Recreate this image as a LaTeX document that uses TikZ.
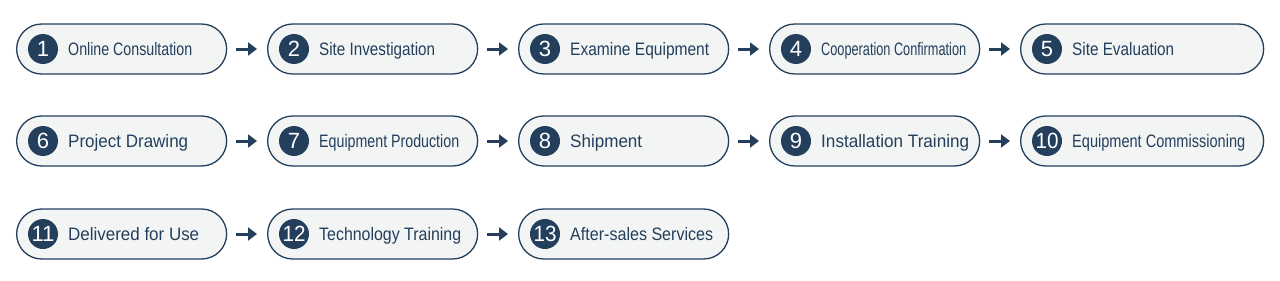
\documentclass[tikz,border=0pt]{standalone}
\usepackage{fontspec}
\setmainfont{Liberation Sans}
\usetikzlibrary{arrows.meta}
\definecolor{navy}{HTML}{233F5C}
\definecolor{pillbg}{HTML}{F3F5F5}
\newcommand{\fitw}[2]{\resizebox{#1pt}{\height}{#2}}
\tikzset{
  pill/.style={draw=navy, line width=1.3pt, fill=pillbg, rounded corners=25pt, minimum width=#1pt, minimum height=50pt, inner sep=0pt},
  numdot/.style={circle, fill=navy, minimum size=30pt, inner sep=0pt, text=white, font=\fontsize{22}{22}\selectfont},
  lbl/.style={anchor=base west, text=navy, font=\fontsize{18}{18}\selectfont, inner sep=0pt},
  flow/.style={draw=navy, line width=3pt, -{Triangle[length=9pt,width=13pt]}}
}
\begin{document}
\begin{tikzpicture}[x=1pt,y=-1pt]
\useasboundingbox (0,0) rectangle (1280,281);
\foreach \n/\lx/\cy/\w/\num/\tw/\txt in {
 p1/16/49/210/1/124/Online Consultation,
 p2/267/49/210/2/116/Site Investigation,
 p3/518/49/210/3/139/Examine Equipment,
 p4/769/49/210/4/145/Cooperation Confirmation,
 p5/1020/49/243/5/102/Site Evaluation,
 p6/16/141/210/6/120/Project Drawing,
 p7/267/141/210/7/140/Equipment Production,
 p8/518/141/210/8/72/Shipment,
 p9/769/141/210/9/148/Installation Training,
 p10/1020/141/243/10/173/Equipment Commissioning,
 p11/16/234/210/11/131/Delivered for Use,
 p12/267/234/210/12/142/Technology Training,
 p13/518/234/210/13/143/After-sales Services}{
  \node[pill=\w, anchor=west] (\n) at (\lx,\cy) {};
  \node[numdot] (\n n) at ([xshift=27pt]\n.west) {\ifnum\num>9 \resizebox{23pt}{\height}{\num}\else\num\fi};
  \node[lbl] (\n t) at ([xshift=52pt,yshift=-6pt]\n.west) {\fitw{\tw}{\txt}};
}
\foreach \a/\b in {p1/p2,p2/p3,p3/p4,p4/p5,p6/p7,p7/p8,p8/p9,p9/p10,p11/p12,p12/p13}{
  \draw[flow] ([xshift=9pt]\a.east) -- ([xshift=-10pt]\b.west);
}
\end{tikzpicture}
\end{document}
